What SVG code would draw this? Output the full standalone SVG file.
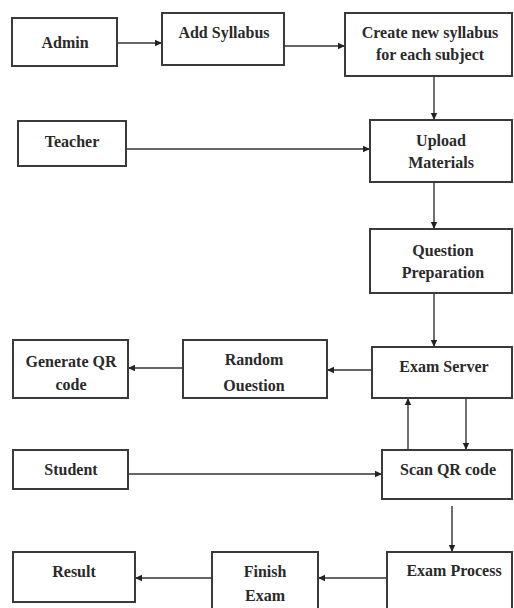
<svg xmlns="http://www.w3.org/2000/svg" width="514" height="608" viewBox="0 0 514 608">
<defs>
<style>
.box{fill:#fff;stroke:#3a3a3a;stroke-width:2}
.t{font-family:"Liberation Serif","Times New Roman",serif;font-size:16px;font-weight:bold;fill:#2a2a2a;text-anchor:middle}
.c{fill:none;stroke:#333;stroke-width:1.4}
</style>
<marker id="ah" markerWidth="8" markerHeight="8" refX="7" refY="4" orient="auto" markerUnits="userSpaceOnUse">
<path d="M0,0.8 L7,4 L0,7.2 Z" fill="#222"/>
</marker>
</defs>
<rect width="514" height="608" fill="#fff"/>
<g id="connectors">
<line class="c" x1="117" y1="43" x2="162" y2="43" marker-end="url(#ah)"/>
<line class="c" x1="284" y1="46" x2="345" y2="46" marker-end="url(#ah)"/>
<line class="c" x1="434" y1="76" x2="434" y2="120" marker-end="url(#ah)"/>
<line class="c" x1="126" y1="149" x2="370" y2="149" marker-end="url(#ah)"/>
<line class="c" x1="434" y1="182" x2="434" y2="229" marker-end="url(#ah)"/>
<line class="c" x1="434" y1="293" x2="434" y2="347" marker-end="url(#ah)"/>
<line class="c" x1="372" y1="370" x2="327" y2="370" marker-end="url(#ah)"/>
<line class="c" x1="183" y1="368" x2="128" y2="368" marker-end="url(#ah)"/>
<line class="c" x1="408" y1="450" x2="408" y2="398" marker-end="url(#ah)"/>
<line class="c" x1="466" y1="398" x2="466" y2="450" marker-end="url(#ah)"/>
<line class="c" x1="128" y1="474" x2="382" y2="474" marker-end="url(#ah)"/>
<line class="c" x1="452" y1="506" x2="452" y2="552" marker-end="url(#ah)"/>
<line class="c" x1="387" y1="578" x2="318" y2="578" marker-end="url(#ah)"/>
<line class="c" x1="212" y1="578" x2="135" y2="578" marker-end="url(#ah)"/>
</g>
<g id="admin"><rect class="box" x="12" y="18" width="105" height="48"/><text class="t" x="65" y="48">Admin</text></g>
<g id="add-syllabus"><rect class="box" x="162" y="13" width="122" height="52"/><text class="t" x="224" y="38">Add Syllabus</text></g>
<g id="create-syllabus"><rect class="box" x="345" y="13" width="167" height="63"/><text class="t" x="430" y="38">Create new syllabus</text><text class="t" x="430" y="60">for each subject</text></g>
<g id="teacher"><rect class="box" x="18" y="121" width="108" height="45"/><text class="t" x="72" y="147">Teacher</text></g>
<g id="upload-materials"><rect class="box" x="370" y="120" width="142" height="62"/><text class="t" x="441" y="146">Upload</text><text class="t" x="441" y="168">Materials</text></g>
<g id="question-preparation"><rect class="box" x="370" y="229" width="142" height="64"/><text class="t" x="443" y="256">Question</text><text class="t" x="443" y="278">Preparation</text></g>
<g id="exam-server"><rect class="box" x="372" y="347" width="140" height="51"/><text class="t" x="444" y="372">Exam Server</text></g>
<g id="random-question"><rect class="box" x="183" y="340" width="144" height="58"/><text class="t" x="254" y="365">Random</text><text class="t" x="254" y="391">Ouestion</text></g>
<g id="generate-qr"><rect class="box" x="13" y="340" width="115" height="58"/><text class="t" x="71" y="367">Generate QR</text><text class="t" x="71" y="390">code</text></g>
<g id="student"><rect class="box" x="13" y="450" width="115" height="39"/><text class="t" x="71" y="475">Student</text></g>
<g id="scan-qr"><rect class="box" x="382" y="450" width="130" height="49"/><text class="t" x="448" y="475">Scan QR code</text></g>
<g id="exam-process"><rect class="box" x="387" y="552" width="125" height="60"/><text class="t" x="454" y="576">Exam Process</text></g>
<g id="finish-exam"><rect class="box" x="212" y="552" width="106" height="60"/><text class="t" x="265" y="577">Finish</text><text class="t" x="265" y="601">Exam</text></g>
<g id="result"><rect class="box" x="13" y="552" width="122" height="50"/><text class="t" x="74" y="577">Result</text></g>
</svg>
